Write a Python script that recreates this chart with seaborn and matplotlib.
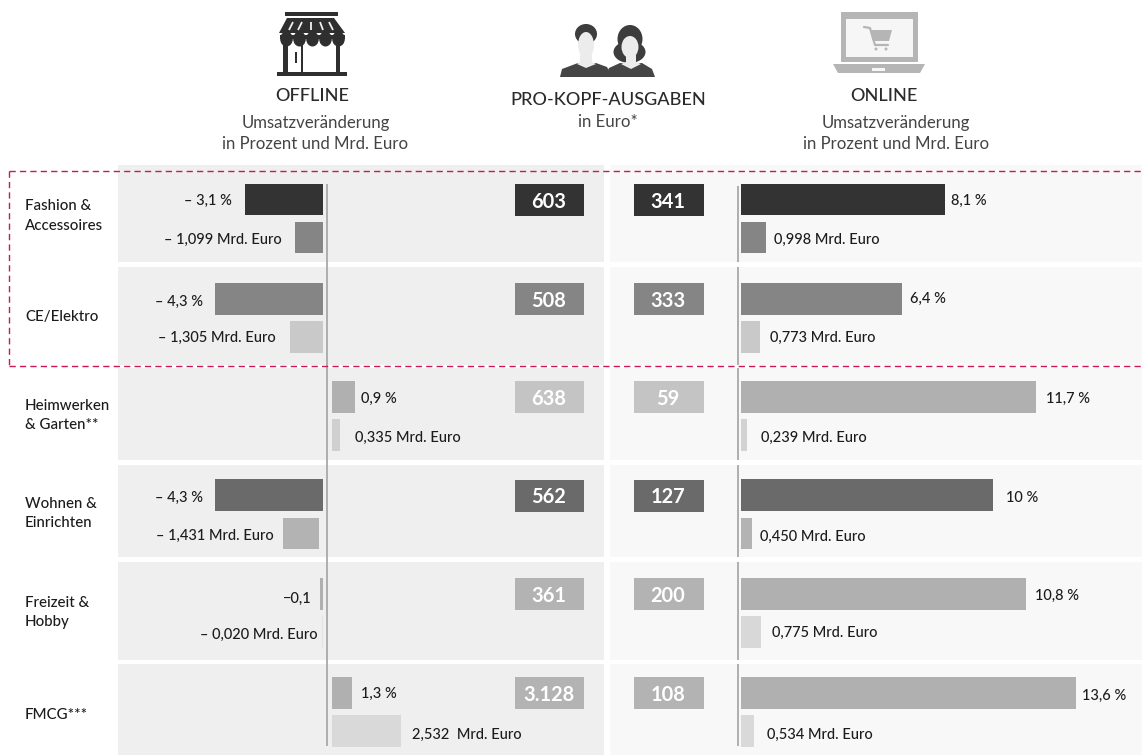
import pandas as pd
import matplotlib
matplotlib.use("Agg")
import matplotlib.pyplot as plt
from matplotlib.patches import Rectangle, Polygon, Ellipse
import seaborn as sns

sns.set_theme(style="white")
plt.rcParams['font.family'] = ['Lato', 'DejaVu Sans']

# ---- data ----
categories = ["Fashion &\nAccessoires", "CE/Elektro", "Heimwerken\n& Garten**",
              "Wohnen &\nEinrichten", "Freizeit &\nHobby", "FMCG***"]
offline_pct = [-3.1, -4.3, 0.9, -4.3, -0.1, 0.8]
offline_mrd = [-1.099, -1.305, 0.335, -1.431, -0.020, 2.74]
online_pct = [8.1, 6.4, 11.7, 10.0, 11.3, 13.3]
online_mrd = [0.998, 0.773, 0.239, 0.450, 0.775, 0.534]
offline_pct_labels = ["– 3,1 %", "– 4,3 %", "0,9 %", "– 4,3 %", "−0,1", "1,3 %"]
offline_mrd_labels = ["– 1,099 Mrd. Euro", "– 1,305 Mrd. Euro", "0,335 Mrd. Euro",
                      "– 1,431 Mrd. Euro", "– 0,020 Mrd. Euro", "2,532  Mrd. Euro"]
online_pct_labels = ["8,1 %", "6,4 %", "11,7 %", "10 %", "10,8 %", "13,6 %"]
online_mrd_labels = ["0,998 Mrd. Euro", "0,773 Mrd. Euro", "0,239 Mrd. Euro",
                     "0,450 Mrd. Euro", "0,775 Mrd. Euro", "0,534 Mrd. Euro"]
kopf_offline = ["603", "508", "638", "562", "361", "3.128"]
kopf_online = ["341", "333", "59", "127", "200", "108"]
metrics = ["Prozent", "Mrd. Euro"]

# ---- styles ----
off_main_col = ["#333333", "#858585", "#b0b0b0", "#6a6a6a", "#b0b0b0", "#b0b0b0"]
off_sec_col = ["#858585", "#c9c9c9", "#d0d0d0", "#b3b3b3", "#e2e2e2", "#d9d9d9"]
on_main_col = ["#333333", "#858585", "#b0b0b0", "#6a6a6a", "#b0b0b0", "#b0b0b0"]
on_sec_col = ["#858585", "#c9c9c9", "#d2d2d2", "#b3b3b3", "#d8d8d8", "#d9d9d9"]
box_off_col = ["#333333", "#858585", "#c4c4c4", "#6a6a6a", "#b3b3b3", "#b3b3b3"]
box_on_col = ["#333333", "#858585", "#c4c4c4", "#6a6a6a", "#b3b3b3", "#b3b3b3"]

W, H = 1142, 755
PX_PER_UNIT = 25.2
row_band = [(165, 262), (267, 365), (368, 460), (465, 557), (562, 660), (664, 755)]
main_top = [184, 283, 381, 479.5, 578, 677]
BAR_H, PITCH = 31.5, 38

fig = plt.figure(figsize=(W / 100, H / 100), dpi=100, facecolor="white")


def px_axes(x0, y0, x1, y1, **kw):
    return fig.add_axes([x0 / W, 1 - y1 / H, (x1 - x0) / W, (y1 - y0) / H], **kw)


def fs(px):
    return px * 0.72


# page layer in image pixels
bg = px_axes(0, 0, W, H, zorder=0)
bg.set_xlim(0, W)
bg.set_ylim(H, 0)
bg.axis("off")
fg = px_axes(0, 0, W, H, zorder=5)
fg.set_xlim(0, W)
fg.set_ylim(H, 0)
fg.axis("off")
fg.patch.set_alpha(0)

for (t, b) in row_band:
    bg.add_patch(Rectangle((118, t), 604 - 118, b - t, fc="#efefef", ec="none"))
    bg.add_patch(Rectangle((610, t), W - 610, b - t, fc="#f8f8f8", ec="none"))

# zero axis lines
fg.plot([327, 327], [184, 746], color="#a9a9a9", lw=1.3, solid_capstyle="butt")
for k, (t, b) in enumerate(row_band):
    fg.plot([737.5, 737.5], [max(t, 186), min(b, 746)], color="#a9a9a9", lw=1.3,
            solid_capstyle="butt")


def row_chart(x0, x1, zero, top, vals, cols):
    """one small horizontal bar chart: the two measures of a category"""
    c = top + BAR_H / 2
    ax = px_axes(x0, c - PITCH / 2, x1, c - PITCH / 2 + 2 * PITCH, zorder=2)
    ax.patch.set_alpha(0)
    df = pd.DataFrame({"metric": metrics, "value": vals})
    sns.barplot(data=df, x="value", y="metric", hue="metric", order=metrics,
                hue_order=metrics, palette=cols, legend=False, dodge=False,
                width=BAR_H / PITCH, saturation=1, ax=ax, orient="h", linewidth=0)
    ax.set_xlim((x0 - zero) / PX_PER_UNIT, (x1 - zero) / PX_PER_UNIT)
    ax.set_ylim(1.5, -0.5)
    ax.set_axis_off()
    return ax


for i in range(6):
    negative = offline_pct[i] < 0
    zero = 323 if negative else 332
    ax = row_chart(118, 604, zero, main_top[i], [offline_pct[i], offline_mrd[i]],
                   [off_main_col[i], off_sec_col[i]])
    if i == 3:  # this bar stops short of the baseline in the reference
        p = ax.patches[1]
        p.set_x(p.get_x() - 4 / PX_PER_UNIT)
    row_chart(610, W, 741, main_top[i], [online_pct[i], online_mrd[i]],
              [on_main_col[i], on_sec_col[i]])

# per-capita boxes
for i in range(6):
    t = main_top[i]
    for (x0, x1, col, lab) in ((515, 584, box_off_col[i], kopf_offline[i]),
                               (634, 704, box_on_col[i], kopf_online[i])):
        fg.add_patch(Rectangle((x0, t), x1 - x0, BAR_H + 0.5, fc=col, ec="none"))
        fg.text((x0 + x1) / 2 - 1, t + BAR_H / 2, lab, color="white", ha="center",
                va="center_baseline", fontsize=fs(20), fontweight="bold")

# text
TXT = "#1c1c1c"
cat_y = [216, 317, 415.5, 513.5, 612.5, 715]
for lab, y in zip(categories, cat_y):
    fg.text(25, y, lab, ha="left", va="center", fontsize=fs(15), color=TXT,
            linespacing=1.5, fontweight="medium")

off_pct_pos = [(232, 199, "right"), (203, 300, "right"), (361, 397, "left"),
               (203, 496, "right"), (312, 597, "right"), (361, 692, "left")]
off_mrd_pos = [(282, 238, "right"), (276, 336, "right"), (355, 436, "left"),
               (274, 534, "right"), (318, 633, "right"), (412, 733, "left")]
on_pct_x = [(951, 199), (910, 297), (1046, 397), (1006, 496), (1035, 594), (1082, 694)]
on_mrd_x = [(774, 238), (770, 336), (761, 436), (760, 535), (772, 631), (767, 733)]
LBL = fs(14.6)
for lab, (x, y, ha) in zip(offline_pct_labels, off_pct_pos):
    fg.text(x, y, lab, ha=ha, va="center_baseline", fontsize=LBL, color=TXT, fontweight="medium")
for lab, (x, y, ha) in zip(offline_mrd_labels, off_mrd_pos):
    fg.text(x, y, lab, ha=ha, va="center_baseline", fontsize=LBL, color=TXT, fontweight="medium")
for lab, (x, y) in zip(online_pct_labels, on_pct_x):
    fg.text(x, y, lab, ha="left", va="center_baseline", fontsize=LBL, color=TXT, fontweight="medium")
for lab, (x, y) in zip(online_mrd_labels, on_mrd_x):
    fg.text(x, y, lab, ha="left", va="center_baseline", fontsize=LBL, color=TXT, fontweight="medium")

HEAD = "#2a2a2a"
SUB = "#444444"
fg.text(312, 96, "OFFLINE", ha="center", va="center", fontsize=fs(18.2), color=HEAD, fontweight="medium")
fg.text(884, 96, "ONLINE", ha="center", va="center", fontsize=fs(18.2), color=HEAD, fontweight="medium")
fg.text(608, 100, "PRO-KOPF-AUSGABEN", ha="center", va="center", fontsize=fs(18.2), color=HEAD, fontweight="medium")
fg.text(608, 122, "in Euro*", ha="center", va="center", fontsize=fs(16.8), color=SUB)
for cx in (315.5, 896):
    fg.text(cx, 123, "Umsatzveränderung", ha="center", va="center", fontsize=fs(16.7), color=SUB)
    fg.text(cx, 144, "in Prozent und Mrd. Euro", ha="center", va="center", fontsize=fs(16.7), color=SUB)

# dashed frame
DASH = dict(color="#c9175a", lw=1.0, dashes=(4.5, 3))
fg.plot([8.5, 8.5], [171, 366], **DASH)
fg.plot([8.5, W], [171, 171], **DASH)
fg.plot([8.5, W], [366, 366], **DASH)

# store icon
S = "#2f2f2f"
fg.add_patch(Rectangle((285, 12), 53, 4, fc=S, ec="none"))
fg.add_patch(Polygon([(287, 18), (334, 18), (345, 33), (279, 33)], fc=S, ec="none"))
for xa, xb in ((293, 289), (302, 298), (311, 311), (320, 323), (329, 333)):
    fg.plot([xa, xb], [22, 30], color="#f0f0f0", lw=1.3, solid_capstyle="butt")
fg.add_patch(Rectangle((280, 35), 65, 4, fc=S, ec="none"))
for k in range(5):
    fg.add_patch(Ellipse((286.5 + 13 * k, 39), 12.6, 15, fc=S, ec="none"))
fg.add_patch(Rectangle((283, 42), 4.5, 31, fc=S, ec="none"))
fg.add_patch(Rectangle((335.5, 42), 4.5, 31, fc=S, ec="none"))
fg.add_patch(Rectangle((300.5, 44), 2.2, 29, fc=S, ec="none"))
fg.add_patch(Rectangle((295, 52), 2, 11, fc=S, ec="none"))
fg.add_patch(Rectangle((277, 72), 70, 4, fc=S, ec="none"))

# people icon
B = "#454545"
HAIR = "#3d3d3d"
FACE = "#ececec"
fg.add_patch(Ellipse((586, 34), 22, 20, fc=HAIR, ec="none"))
fg.add_patch(Polygon([(560, 77), (562, 69), (578, 63), (596, 63), (607, 67), (612, 77)], fc=B, ec="none"))
fg.add_patch(Polygon([(605, 77), (609, 68), (620, 63), (642, 63), (652, 69), (655, 77)], fc=B, ec="none"))
fg.add_patch(Polygon([(580, 55), (592, 55), (592, 62), (596, 64), (586, 68), (577, 64), (580, 62)], fc=FACE, ec="none"))
fg.add_patch(Ellipse((586, 45), 16, 26, fc=FACE, ec="none"))
fg.add_patch(Ellipse((630, 39), 25, 28, fc=HAIR, ec="none"))
fg.add_patch(Ellipse((629.5, 52), 32, 22, fc=HAIR, ec="none"))
fg.add_patch(Polygon([(626, 55), (636, 55), (636, 62), (641, 64), (631, 69), (621, 64), (626, 62)], fc=FACE, ec="none"))
fg.add_patch(Ellipse((630, 47), 17, 22, fc=FACE, ec="none"))

# laptop icon
L = "#b5b5b5"
fg.add_patch(Rectangle((841, 12), 77, 50, fc=L, ec="none"))
fg.add_patch(Rectangle((845.5, 19), 67.5, 38, fc="#f6f6f6", ec="none"))
fg.add_patch(Polygon([(833, 64), (925, 64), (920, 73), (838, 73)], fc=L, ec="none"))
fg.add_patch(Rectangle((872, 68), 13, 3, fc="#f6f6f6", ec="none"))
fg.plot([864, 870, 875, 888], [27, 28, 45, 45], color=L, lw=1.6)
fg.add_patch(Polygon([(870, 30), (892, 30), (889, 41), (873, 41)], fc=L, ec="none"))
fg.add_patch(Ellipse((876, 49), 3, 3, fc=L, ec="none"))
fg.add_patch(Ellipse((886, 49), 3, 3, fc=L, ec="none"))

fig.savefig("out.png", dpi=100, facecolor="white")
